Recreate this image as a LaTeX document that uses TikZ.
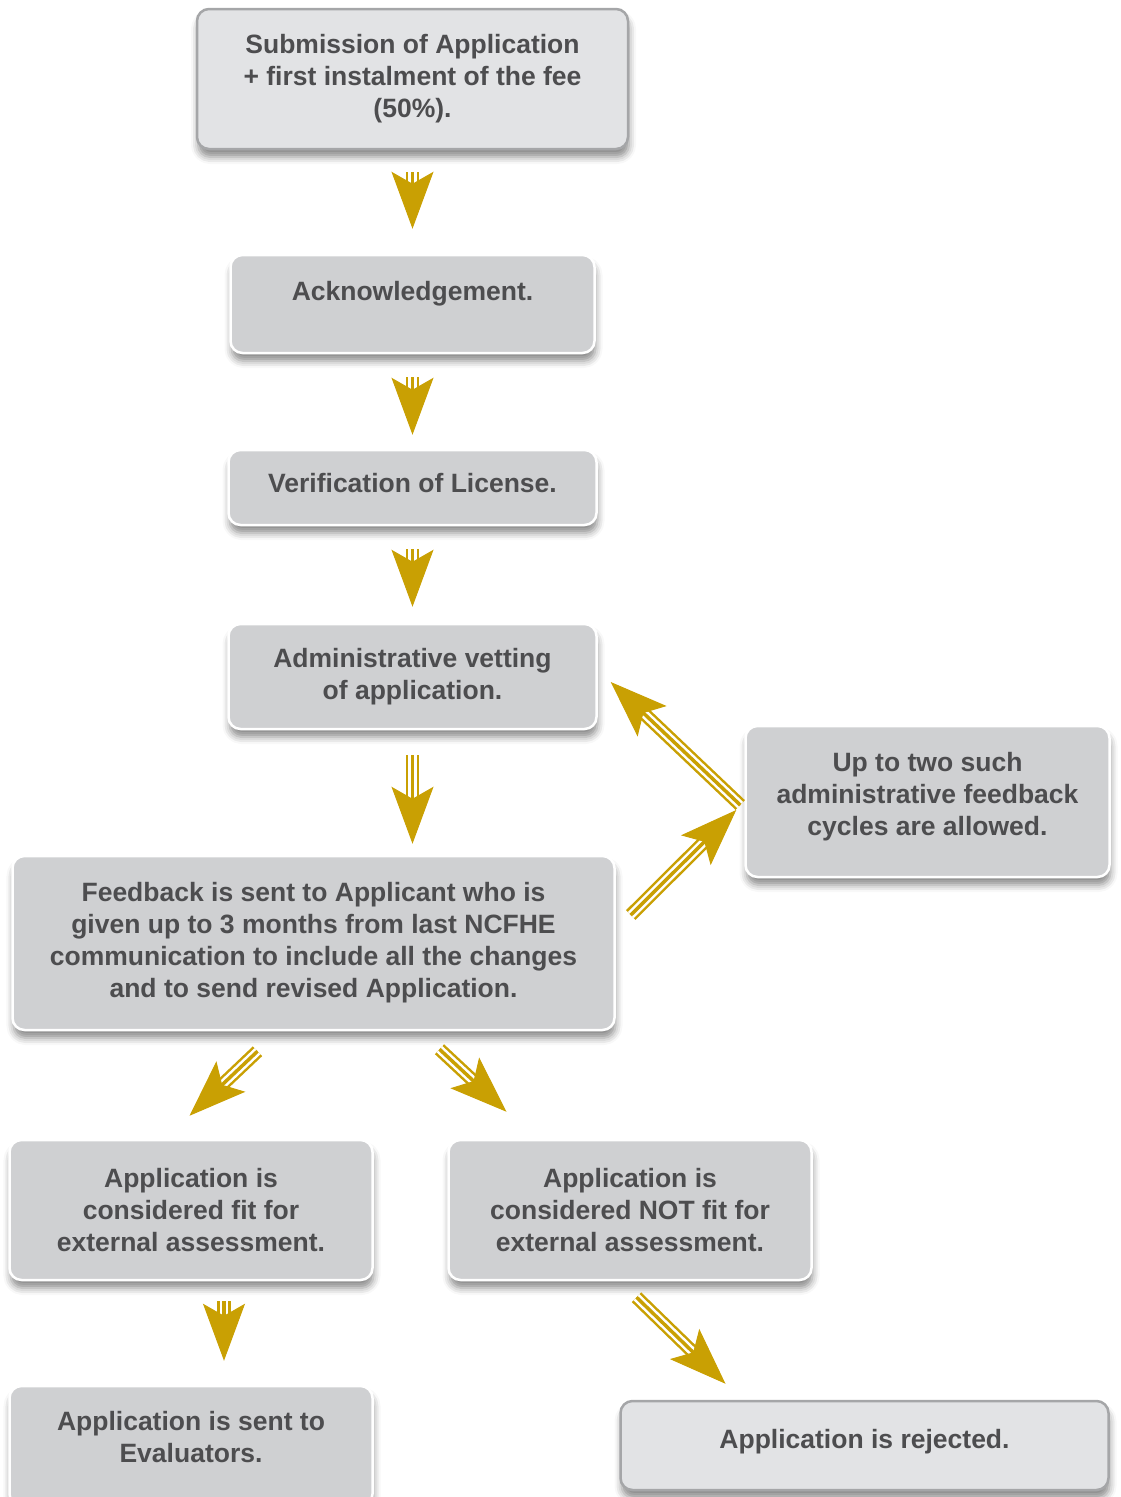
\documentclass[tikz,border=0pt]{standalone}
\usepackage{fontspec}
\setmainfont{Liberation Sans}
\usetikzlibrary{positioning,arrows.meta,shadows.blur}

\definecolor{boxlight}{RGB}{226,227,229}
\definecolor{boxedge}{RGB}{165,166,168}
\definecolor{boxgrey}{RGB}{207,208,210}
\definecolor{inkgrey}{RGB}{77,77,79}
\definecolor{gold}{RGB}{201,160,3}

\tikzset{
  box/.style = {rounded corners = 12pt, line width = 2.5pt, inner sep = 0pt, align = center,
    text = inkgrey, font = \fontsize{26.5}{32}\selectfont\bfseries,
    blur shadow = {shadow xshift = 1pt, shadow yshift = -8pt, shadow blur radius = 7pt, shadow opacity = 45}},
  lightbox/.style = {box, fill = boxlight, draw = boxedge},
  greybox/.style = {box, fill = boxgrey, draw = white},
  % striped shaft + barbed head; #1 = gap at start, #2 = gap at end
  flow/.style 2 args = {draw = gold, line width = 13.5pt, shorten <= #1pt, shorten >= #2pt + 40pt,
    postaction = {draw = white, line width = 8.5pt},
    postaction = {draw = gold, line width = 3.5pt},
    postaction = {draw = gold, line width = 1pt, shorten >= #2pt,
      -{Stealth[length = 57pt, width = 42pt, inset = 12pt]}}}
}

\begin{document}
\begin{tikzpicture}[x = 1pt, y = -1pt, node distance = 200pt, on grid]
	\useasboundingbox (0,0) rectangle (1120,1497);
	\node[lightbox, minimum width = 431pt, minimum height = 140pt] (sub) at (412.5,79) {Submission of Application\\ + first instalment of the fee\\ (50\%).};
	\node[greybox, minimum width = 364pt, minimum height = 98pt, text height = 19pt, text depth = 26pt] (ack) [below = 225pt of sub] {Acknowledgement.};
	\node[greybox, minimum width = 368pt, minimum height = 75pt, text height = 19pt, text depth = 9pt] (ver) [below = 183.5pt of ack] {Verification of License.};
	\node[greybox, minimum width = 368pt, minimum height = 105pt] (adm) [below = 189pt of ver] {Administrative vetting\\ of application.};
	\node[greybox, minimum width = 602pt, minimum height = 174pt] (fb) [below left = 266.5pt and 99pt of adm] {Feedback is sent to Applicant who is\\ given up to 3 months from last NCFHE\\ communication to include all the changes\\ and to send revised Application.};
	\node[greybox, minimum width = 364pt, minimum height = 151pt] (upto) [right = 515pt of adm, yshift = -125pt] {Up to two such\\ administrative feedback\\ cycles are allowed.\\[-16pt]\mbox{}};
	\node[greybox, minimum width = 363pt, minimum height = 140pt] (fit) [below left = 267pt and 122.5pt of fb] {Application is\\ considered fit for\\ external assessment.};
	\node[greybox, minimum width = 363pt, minimum height = 140pt] (nfit) [right = 439pt of fit] {Application is\\ considered NOT fit for\\ external assessment.};
	\node[greybox, minimum width = 363pt, minimum height = 120pt] (eval) [below = 236pt of fit] {Application is sent to\\ Evaluators.\\[-14pt]\mbox{}};
	\node[lightbox, minimum width = 488pt, minimum height = 89pt, text height = 19pt, text depth = 13pt] (rej) [below right = 235.5pt and 234.5pt of nfit] {Application is rejected.};

	\path (sub.south) edge[flow = {22}{25}] (ack.north);
	\path (ack.south) edge[flow = {23}{14}] (ver.north);
	\path (ver.south) edge[flow = {23}{16}] (adm.north);
	\path (adm.south) edge[flow = {25}{11}] (adm.south |- fb.north);
	\path ([shift = {(15,-28)}]fb.east) edge[flow = {0}{0}] ([shift = {(-8,8.5)}]upto.west);
	\path ([shift = {(-4,3.5)}]upto.west) edge[flow = {0}{0}] ([shift = {(13,5.5)}]adm.east);
	\path ([shift = {(-56,20)}]fb.south) edge[flow = {0}{0}] ([shift = {(-1.5,-23)}]fit.north);
	\path ([shift = {(126,18)}]fb.south) edge[flow = {0}{0}] ([shift = {(-123.5,-27)}]nfit.north);
	\path ([xshift = 33pt]fit.south) edge[flow = {20}{24}] ([xshift = 33pt]eval.north);
	\path ([shift = {(6.5,16)}]nfit.south) edge[flow = {0}{0}] ([shift = {(-139,-16)}]rej.north);
\end{tikzpicture}
\end{document}
